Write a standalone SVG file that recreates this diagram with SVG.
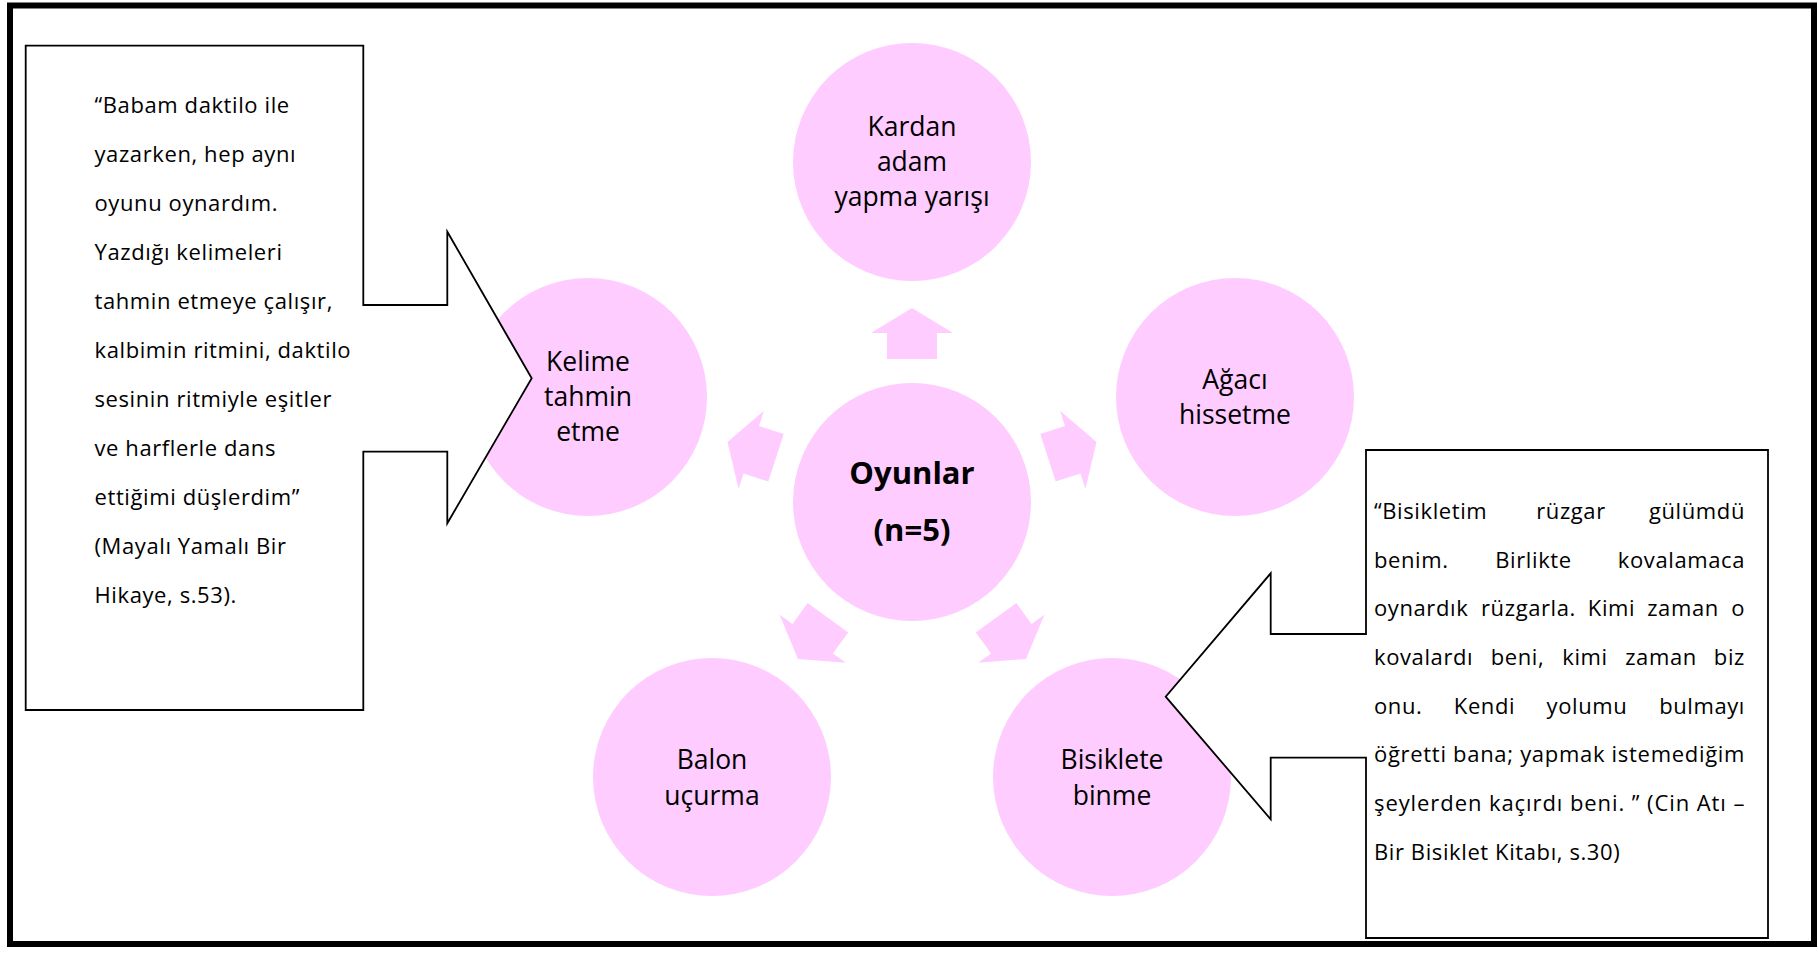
<svg xmlns="http://www.w3.org/2000/svg" xmlns:xlink="http://www.w3.org/1999/xlink" width="1818" height="953" viewBox="0 0 1818 953">
  <style>
    text { font-variant-ligatures: none; }
    .bubble { fill: #FFCCFF; }
    .lbl { font-family: "Open Sans", Lato, sans-serif; font-size: 26.5px; fill: #000; text-anchor: middle; }
    .hub { font-family: "Open Sans", Lato, sans-serif; font-size: 31px; font-weight: bold; fill: #000; text-anchor: middle; }
    .callout { fill: #FFFFFF; stroke: #000; stroke-width: 1.8; stroke-linejoin: miter; }
    .quote { font-family: "Open Sans", Lato, sans-serif; font-size: 22px; letter-spacing: 0.6px; fill: #000; }
    .end { text-anchor: end; }
    .mid { text-anchor: middle; }
  </style>
  <defs>
    <!-- block arrow pointing up, origin at hub centre -->
    <polygon id="spoke" points="-25,-143 -25,-169 -41,-169 0,-194 41,-169 25,-169 25,-143" fill="#FFCCFF"/>
  </defs>

  <rect x="0" y="0" width="1818" height="953" fill="#FFFFFF"/>

  <!-- arrows from the hub to each activity -->
  <g id="connectors">
    <use xlink:href="#spoke" transform="translate(912 502) rotate(0)"/>
    <use xlink:href="#spoke" transform="translate(912 502) rotate(72)"/>
    <use xlink:href="#spoke" transform="translate(912 502) rotate(144)"/>
    <use xlink:href="#spoke" transform="translate(912 502) rotate(216)"/>
    <use xlink:href="#spoke" transform="translate(912 502) rotate(288)"/>
  </g>

  <g id="hub">
    <circle class="bubble" cx="912" cy="502" r="119"/>
    <text class="hub" x="912" y="484">Oyunlar</text>
    <text class="hub" x="912" y="541">(n=5)</text>
  </g>

  <g id="node-kardan">
    <circle class="bubble" cx="912" cy="162" r="119"/>
    <text class="lbl" x="912" y="136">Kardan</text>
    <text class="lbl" x="912" y="171">adam</text>
    <text class="lbl" x="912" y="206">yapma yarışı</text>
  </g>

  <g id="node-agac">
    <circle class="bubble" cx="1235" cy="397" r="119"/>
    <text class="lbl" x="1235" y="389">Ağacı</text>
    <text class="lbl" x="1235" y="424">hissetme</text>
  </g>

  <g id="node-bisiklet">
    <circle class="bubble" cx="1112" cy="777" r="119"/>
    <text class="lbl" x="1112" y="769">Bisiklete</text>
    <text class="lbl" x="1112" y="805">binme</text>
  </g>

  <g id="node-balon">
    <circle class="bubble" cx="712" cy="777" r="119"/>
    <text class="lbl" x="712" y="769">Balon</text>
    <text class="lbl" x="712" y="805">uçurma</text>
  </g>

  <g id="node-kelime">
    <circle class="bubble" cx="588" cy="397" r="119"/>
    <text class="lbl" x="588" y="371">Kelime</text>
    <text class="lbl" x="588" y="406">tahmin</text>
    <text class="lbl" x="588" y="441">etme</text>
  </g>

  <!-- quotation callout pointing at "Kelime tahmin etme" -->
  <g id="callout-left">
    <polygon class="callout" points="25.7,45.7 363.3,45.7 363.3,305 447.3,305 447.3,231.7 531.7,378.3 447.3,523.3 447.3,451.7 363.3,451.7 363.3,710 25.7,710"/>
    <text class="quote" x="94.5" y="113">“Babam daktilo ile</text>
    <text class="quote" x="94.5" y="162">yazarken, hep aynı</text>
    <text class="quote" x="94.5" y="211">oyunu oynardım.</text>
    <text class="quote" x="94.5" y="260">Yazdığı kelimeleri</text>
    <text class="quote" x="94.5" y="309">tahmin etmeye çalışır,</text>
    <text class="quote" x="94.5" y="358">kalbimin ritmini, daktilo</text>
    <text class="quote" x="94.5" y="407">sesinin ritmiyle eşitler</text>
    <text class="quote" x="94.5" y="456">ve harflerle dans</text>
    <text class="quote" x="94.5" y="505">ettiğimi düşlerdim”</text>
    <text class="quote" x="94.5" y="554">(Mayalı Yamalı Bir</text>
    <text class="quote" x="94.5" y="603">Hikaye, s.53).</text>
  </g>

  <!-- quotation callout pointing at "Bisiklete binme"; justified lines set word by word -->
  <g id="callout-right">
    <polygon class="callout" points="1366,450 1768,450 1768,938 1366,938 1366,757.7 1270.7,757.7 1270.7,819.3 1165.7,696.7 1270.7,573.3 1270.7,634 1366,634"/>
    <text class="quote" x="1374" y="519">“Bisikletim</text>
    <text class="quote mid" x="1571" y="519">rüzgar</text>
    <text class="quote end" x="1745" y="519">gülümdü</text>

    <text class="quote" x="1374" y="568">benim.</text>
    <text class="quote mid" x="1533.5" y="568">Birlikte</text>
    <text class="quote end" x="1745" y="568">kovalamaca</text>

    <text class="quote" x="1374" y="616">oynardık</text>
    <text class="quote mid" x="1528.5" y="616">rüzgarla.</text>
    <text class="quote mid" x="1611.5" y="616">Kimi</text>
    <text class="quote mid" x="1683" y="616">zaman</text>
    <text class="quote end" x="1745" y="616">o</text>

    <text class="quote" x="1374" y="665">kovalardı</text>
    <text class="quote mid" x="1517.5" y="665">beni,</text>
    <text class="quote mid" x="1585" y="665">kimi</text>
    <text class="quote mid" x="1661" y="665">zaman</text>
    <text class="quote end" x="1745" y="665">biz</text>

    <text class="quote" x="1374" y="714">onu.</text>
    <text class="quote mid" x="1484.5" y="714">Kendi</text>
    <text class="quote mid" x="1587" y="714">yolumu</text>
    <text class="quote end" x="1745" y="714">bulmayı</text>

    <text class="quote" x="1374" y="762" textLength="371" lengthAdjust="spacing">öğretti bana; yapmak istemediğim</text>
    <text class="quote" x="1374" y="811" textLength="371" lengthAdjust="spacing">şeylerden kaçırdı beni. ” (Cin Atı –</text>
    <text class="quote" x="1374" y="860">Bir Bisiklet Kitabı, s.30)</text>
  </g>

  <!-- page frame -->
  <rect x="10" y="5.5" width="1804" height="938.5" fill="none" stroke="#000" stroke-width="6"/>
</svg>
